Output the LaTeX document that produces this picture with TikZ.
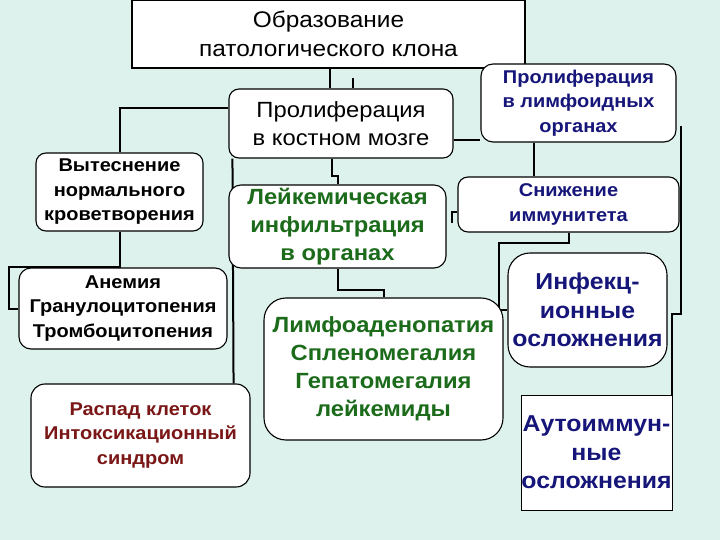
\documentclass[tikz,border=0pt]{standalone}
\usepackage{fontspec}
\setmainfont{Liberation Sans}[FakeStretch=1.08]
\usetikzlibrary{positioning}
\definecolor{LKBack}{HTML}{DDF2EC}
\definecolor{LKNavy}{HTML}{16167A}
\definecolor{LKGreen}{HTML}{1B6B1B}
\definecolor{LKRed}{HTML}{7A1616}
\pgfdeclarelayer{bg}
\pgfdeclarelayer{lines}
\pgfsetlayers{bg,lines,main}

\begin{document}
\begin{tikzpicture}[
  x=1pt,y=-1pt,
  box/.style={draw=black,fill=white,line width=1.1pt,rounded corners=12pt,align=center,inner sep=0pt},
  sqbox/.style={box,rounded corners=0pt},
  plain/.style={font=\fontsize{22}{28}\selectfont},
  small/.style={font=\bfseries\fontsize{18.5}{24.5}\selectfont},
  mid/.style={font=\bfseries\fontsize{22}{28}\selectfont},
  large/.style={font=\bfseries\fontsize{23}{28.5}\selectfont},
  link/.style={line width=2pt,draw=black}
]
\begin{pgfonlayer}{bg}
\fill[LKBack] (0,0) rectangle (720,540);
\end{pgfonlayer}
\useasboundingbox (0,0) rectangle (720,540);

\node[sqbox,font=\fontsize{22.6}{29}\selectfont,minimum width=393pt,minimum height=68pt] (clone) at (328.5,34) {Образование\\патологического клона};
\node[box,plain,rounded corners=10pt,minimum width=224pt,minimum height=69pt] (marrow) at (341,123.5) {Пролиферация\\в костном мозге};
\node[box,small,text=LKNavy,minimum width=195pt,minimum height=78pt] (lymph) at (578.5,103) {Пролиферация\\в лимфоидных\\органах};
\node[box,small,rounded corners=10pt,minimum width=167pt,minimum height=78pt] (disp) at (119.5,192) {Вытеснение\\нормального\\кроветворения};
\node[box,mid,text=LKGreen,minimum width=217pt,minimum height=83pt] (leuk) at (337.5,226.5) {Лейкемическая\\инфильтрация\\в органах};
\node[box,small,text=LKNavy,rounded corners=10pt,minimum width=221pt,minimum height=55pt] (immun) at (568.5,204.5) {Снижение\\иммунитета};
\node[box,small,minimum width=208pt,minimum height=81pt] (anemia) at (123,308.5) {Анемия\\Гранулоцитопения\\Тромбоцитопения};
\node[box,mid,text=LKGreen,rounded corners=22pt,minimum width=239pt,minimum height=142pt] (organs) at (383.5,369) {Лимфоаденопатия\\Спленомегалия\\Гепатомегалия\\лейкемиды};
\node[box,large,text=LKNavy,rounded corners=22pt,minimum width=159pt,minimum height=114pt] (infect) at (587.5,310) {Инфекц-\\ионные\\осложнения};
\node[box,small,text=LKRed,rounded corners=14pt,minimum width=219pt,minimum height=103pt] (decay) at (140.5,435.5) {Распад клеток\\Интоксикационный\\синдром};
\node[sqbox,large,text=LKNavy,line width=0.9pt,minimum width=151pt,minimum height=115pt] (autoim) at (596.5,452.5) {Аутоиммун-\\ные\\осложнения};

\begin{pgfonlayer}{lines}
\draw[link] ([xshift=1.5pt]clone.south) -- ([xshift=-11pt]marrow.north);
\draw[link] ([xshift=12pt]marrow.north) -- ++(0,-10);
\draw[link] ([yshift=15.5pt]marrow.west) -| (disp.north);
\draw[link] (disp.south) -- ++(0,35) -| ([xshift=-9pt]anemia.west) -- (anemia.west);
\draw[link] ([xshift=4pt]marrow.south west) -- ([xshift=-17pt]decay.north east);
\draw[link] ([xshift=-9pt]marrow.south) -- ++(0,17) -| (leuk.north);
\draw[link] (leuk.south) -- ++(0,21) -| (organs.north);
\draw[link] ([yshift=-16.5pt]marrow.east) -- ([yshift=-16.5pt]marrow.east -| lymph.west);
\draw[link] ([xshift=-44.5pt]lymph.south) -- ([xshift=-44.5pt]lymph.south |- immun.north);
\draw[link] ([xshift=4pt,yshift=-23.5pt]lymph.east) -- ++(0,187) -| ([yshift=-12pt]autoim.north east);
\draw[link] (immun.south) -- ++(0,10) -| ([xshift=-8pt]infect.west) -- (infect.west);
\draw[link] ([yshift=-7.5pt]immun.west) -- ++(-5,0) -- ++(0,11);
\end{pgfonlayer}
\end{tikzpicture}
\end{document}
